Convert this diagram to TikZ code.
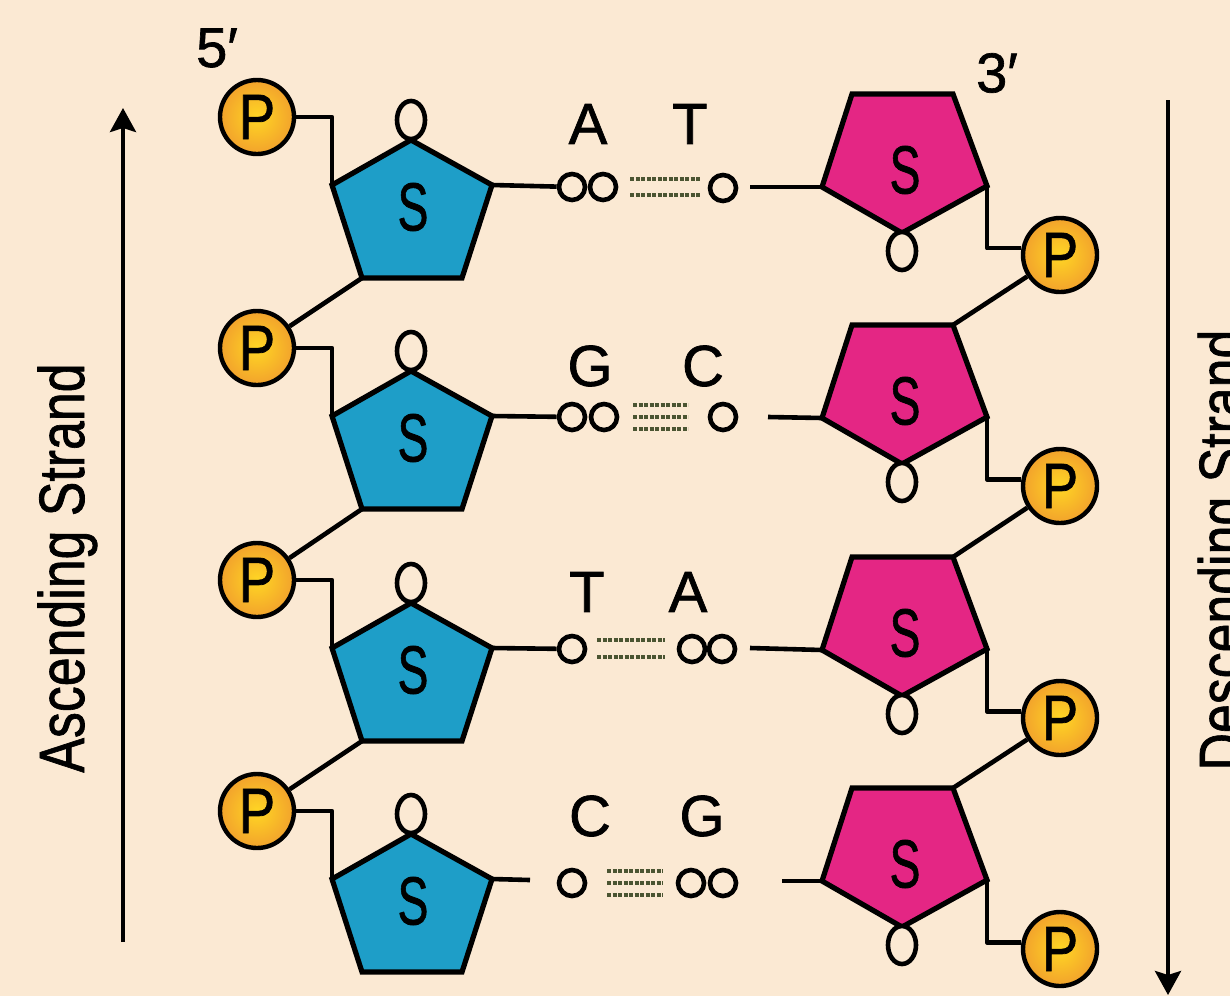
\documentclass[tikz,border=0pt]{standalone}
\usepackage{graphicx}
\usepackage{fontspec}
\setmainfont{Liberation Sans}
\newfontfamily\medsans{Liberation Sans}[FakeBold=1.2]
\usetikzlibrary{arrows.meta}

\definecolor{peach}{RGB}{251,233,211}
\definecolor{sugarblue}{RGB}{30,158,200}
\definecolor{sugarpink}{RGB}{228,38,132}
\definecolor{phosyellow}{RGB}{255,214,36}
\definecolor{phosorange}{RGB}{242,162,44}
\definecolor{hbond}{RGB}{75,85,50}

\begin{document}
\begin{tikzpicture}[x=1pt,y=-1pt,
  bond/.style={line width=4.6pt, black, line join=round},
  sugar/.style={draw=black, line width=5.2pt, line join=miter},
  phos/.style={circle, draw=black, line width=4.4pt, minimum size=74pt, inner sep=0pt,
    inner color=phosyellow, outer color=phosorange,
    font=\medsans\fontsize{64pt}{64pt}\selectfont},
  ring/.style={circle, draw=black, line width=4.6pt, minimum size=26pt, inner sep=0pt, fill=peach},
  hb/.style={draw=hbond, line width=3.4pt, dash pattern=on 4pt off 1.5pt},
  sugarlbl/.style={inner sep=0pt, font=\medsans\fontsize{68pt}{68pt}\selectfont},
  baselbl/.style={inner sep=0pt, font=\medsans\fontsize{58pt}{58pt}\selectfont},
  endlbl/.style={inner sep=0pt, font=\medsans\fontsize{56pt}{56pt}\selectfont},
  strandlbl/.style={inner sep=0pt, rotate=90, anchor=base, font=\medsans\fontsize{64pt}{64pt}\selectfont},
  strandarrow/.style={line width=4pt, -{Stealth[length=24pt,width=26pt,inset=4pt]}}
]
\fill[peach] (0,0) rectangle (1230,996);
\useasboundingbox (0,0) rectangle (1230,996);
\clip (0,0) rectangle (1230,996);

% ---- ascending strand: blue sugars with their phosphates ----
\foreach \r/\dy in {1/0,2/231,3/463,4/694}{
  \coordinate (ba\r)  at (411,140+\dy);
  \coordinate (bul\r) at (332,185+\dy);
  \coordinate (bur\r) at (492,185+\dy);
  \coordinate (bbl\r) at (362,278+\dy);
  \coordinate (bbr\r) at (462,278+\dy);
  \path[sugar, fill=sugarblue] (ba\r) -- (bur\r) -- (bbr\r) -- (bbl\r) -- (bul\r) -- cycle;
  \draw[bond, fill=peach] (411,120+\dy) ellipse [x radius=14, y radius=19];
  \node[sugarlbl] (bs\r) at (413,207+\dy) {\scalebox{0.68}[1]{S}};
  \node[phos] (pl\r) at (257,117+\dy) {\scalebox{0.85}[1]{P}};
  \draw[bond] (pl\r) -| (bul\r);
}

% ---- descending strand: pink sugars with their phosphates ----
\foreach \r/\dy in {1/0,2/231,3/463,4/694}{
  \coordinate (ktl\r) at (852,94+\dy);
  \coordinate (ktr\r) at (953,94+\dy);
  \coordinate (kl\r)  at (822,187+\dy);
  \coordinate (kr\r)  at (987,186+\dy);
  \coordinate (kb\r)  at (902,233+\dy);
  \path[sugar, fill=sugarpink] (ktl\r) -- (ktr\r) -- (kr\r) -- (kb\r) -- (kl\r) -- cycle;
  \draw[bond, fill=peach] (902,251+\dy) ellipse [x radius=14, y radius=19];
  \node[sugarlbl] (ks\r) at (905,170+\dy) {\scalebox{0.68}[1]{S}};
  \node[phos] (pr\r) at (1060,255+\dy) {\scalebox{0.85}[1]{P}};
  \draw[bond] (kr\r) |- (pr\r.170);
}

% ---- sugar-phosphate backbone links ----
\foreach \a/\b in {1/2,2/3,3/4}{
  \draw[bond] (bbl\a) -- (pl\b);
  \draw[bond] (pr\a) -- (ktr\b);
}

% ---- base pair 1: A = T ----
\node[ring] (a1a) at (572,187) {};
\node[ring] (a1b) at (603,187) {};
\node[ring] (t1)  at (723,188) {};
\coordinate (t1s) at (750,187);
\draw[bond] (bur1) -- (a1a);
\draw[bond] (t1s) -- (kl1);
\draw[hb] (630,179) -- (700,179);
\draw[hb] (630,195) -- (700,195);
\node[baselbl] (la1) at (588,124) {A};
\node[baselbl] (lt1) at (690,124) {T};

% ---- base pair 2: G = C ----
\node[ring] (g2a) at (572,417) {};
\node[ring] (g2b) at (604,417) {};
\node[ring] (c2)  at (723,417) {};
\coordinate (c2s) at (768,417);
\draw[bond] (bur2) -- (g2a);
\draw[bond] (c2s) -- (kl2);
\draw[hb] (633,405) -- (688,405);
\draw[hb] (633,417) -- (688,417);
\draw[hb] (633,429) -- (688,429);
\node[baselbl] (lg2) at (590,366) {G};
\node[baselbl] (lc2) at (703,366) {C};

% ---- base pair 3: T = A ----
\node[ring] (t3)  at (572,649) {};
\node[ring] (a3a) at (692,649) {};
\node[ring] (a3b) at (722,649) {};
\coordinate (a3s) at (750,648);
\draw[bond] (bur3) -- (t3);
\draw[bond] (a3s) -- (kl3);
\draw[hb] (597,640) -- (665,640);
\draw[hb] (597,657) -- (665,657);
\node[baselbl] (lt3) at (587,592) {T};
\node[baselbl] (la3) at (688,592) {A};

% ---- base pair 4: C = G ----
\node[ring] (c4)  at (572,883) {};
\node[ring] (g4a) at (691,883) {};
\node[ring] (g4b) at (723,883) {};
\coordinate (c4e) at (530,880);
\coordinate (g4s) at (782,881);
\draw[bond] (bur4) -- (c4e);
\draw[bond] (g4s) -- (kl4);
\draw[hb] (607,871) -- (663,871);
\draw[hb] (607,883) -- (663,883);
\draw[hb] (607,895) -- (663,895);
\node[baselbl] (lc4) at (590,816) {C};
\node[baselbl] (lg4) at (702,816) {G};

% ---- strand ends ----
\node[endlbl] (five) at (217,48) {5′};
\node[endlbl] (three) at (997,73) {3′};

% ---- strand direction arrows ----
\coordinate (ascbot) at (123,942);
\coordinate (asctop) at (123,108);
\draw[strandarrow] (ascbot) -- (asctop);
\coordinate (destop) at (1168,100);
\coordinate (desbot) at (1168,995);
\draw[strandarrow] (destop) -- (desbot);

\node[strandlbl] (asc) at (84,568) {\scalebox{0.81}[1]{Ascending Strand}};
\node[strandlbl] (des) at (1244,550) {\scalebox{0.81}[1]{Descending Strand}};
\end{tikzpicture}
\end{document}
